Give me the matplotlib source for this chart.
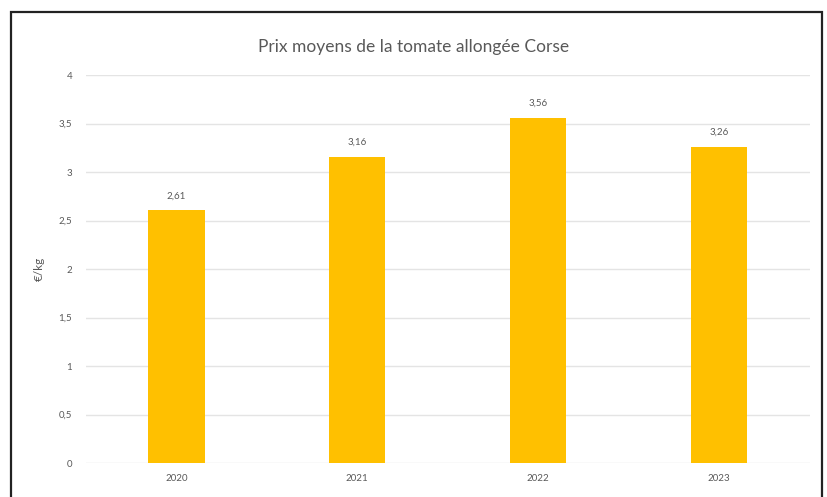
import matplotlib
matplotlib.use("Agg")
import matplotlib.pyplot as plt
from matplotlib.patches import Rectangle

annees = ["2020", "2021", "2022", "2023"]
prix = [2.61, 3.16, 3.56, 3.26]
etiquettes = ["2,61", "3,16", "3,56", "3,26"]
graduations = [0, 0.5, 1, 1.5, 2, 2.5, 3, 3.5, 4]
textes_grad = ["0", "0,5", "1", "1,5", "2", "2,5", "3", "3,5", "4"]

plt.rcParams['font.family'] = ['Lato', 'DejaVu Sans']
gris = "#595959"

fig = plt.figure(figsize=(8.27, 4.97), dpi=100)
ax = fig.add_axes([0.104, 0.068, 0.875, 0.781])

x = range(len(annees))
ax.bar(x, prix, width=0.31, color="#FFC000", zorder=3)
for i, v in enumerate(prix):
    ax.text(i, v + 0.1, etiquettes[i], ha="center", va="bottom", fontsize=7, color=gris)

ax.set_xlim(-0.5, 3.5)
ax.set_ylim(0, 4)
ax.set_xticks(list(x))
ax.set_xticklabels(annees, fontsize=7, color=gris)
ax.set_yticks(graduations)
ax.set_yticklabels(textes_grad, fontsize=7, color=gris)
ax.tick_params(length=0, pad=10)
ax.tick_params(axis="x", pad=8)
ax.grid(axis="y", color="#e4e4e4", linewidth=1, zorder=0)
for s in ax.spines.values():
    s.set_visible(False)
ax.set_ylabel("€/kg", fontsize=8.5, color=gris, labelpad=10)

fig.text(0.5, 0.905, "Prix moyens de la tomate allongée Corse", ha="center", va="center",
         fontsize=12.5, color=gris)

# cadre
fig.patches.append(Rectangle((11/827, -0.02), (822-11)/827, 1 - 12/497 + 0.02,
                             transform=fig.transFigure, fill=False, edgecolor="#222222",
                             linewidth=1.6))

fig.savefig("out.png", dpi=100)
